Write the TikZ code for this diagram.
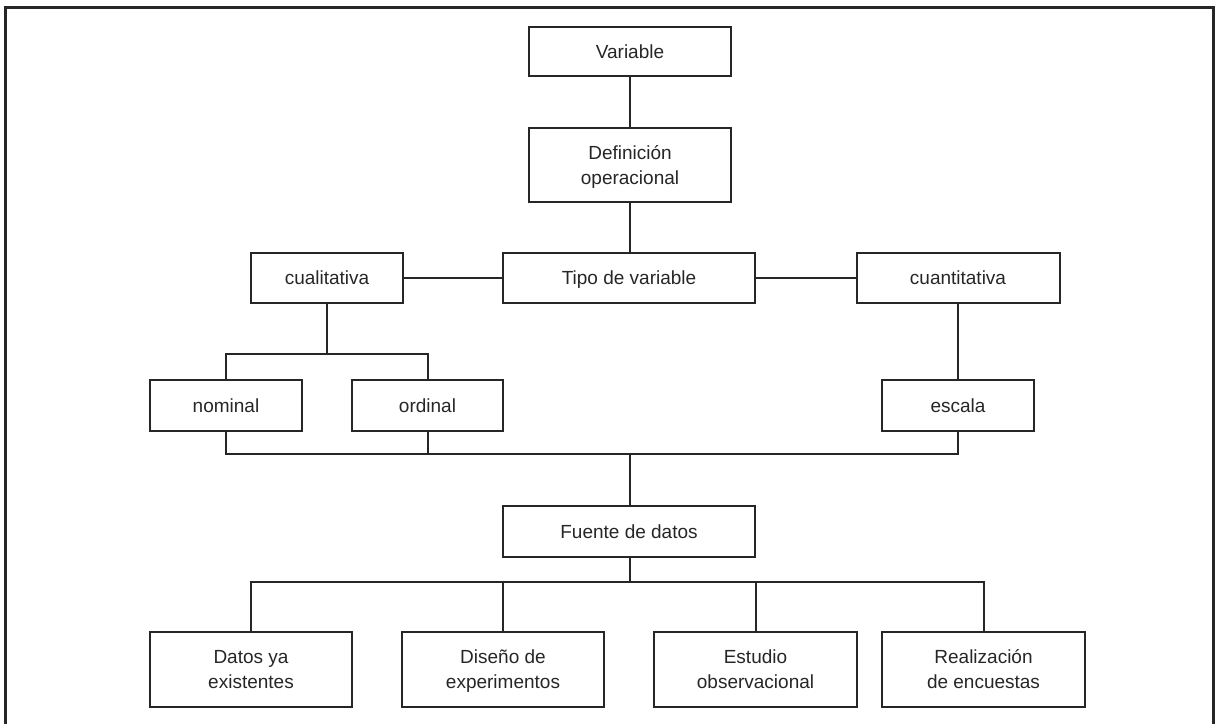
\documentclass[tikz,border=0pt]{standalone}
\usepackage{fontspec}
\setmainfont{Liberation Sans}
\definecolor{ink}{HTML}{262626}
% line strut that keeps every label line at the same height and depth
\newcommand\lnstrut{\rule[-6pt]{0pt}{25pt}}
\begin{document}
\begin{tikzpicture}[x=1pt,y=-1pt,
  box/.style={draw=ink, line width=2pt, text=ink, align=center, inner sep=0pt,
    font=\fontsize{19}{25}\selectfont},
  link/.style={draw=ink, line width=2pt, line join=miter}]
\useasboundingbox (0,0) rectangle (1217,724);
% outer frame (open at the bottom)
\draw[ink, line width=3pt, line join=miter] (5,724) -- (5,7) -- (1213,7) -- (1213,724);

% boxes
\node[box, minimum width=202pt, minimum height=49pt] (var)   at (630,51.5)  {\lnstrut Variable};
\node[box, minimum width=202pt, minimum height=74pt] (def)   at (630,165)   {\lnstrut Definición\\\lnstrut operacional};
\node[box, minimum width=252pt, minimum height=50pt] (tipo)  at (629,278)   {\lnstrut Tipo de variable};
\node[box, minimum width=152pt, minimum height=50pt] (cual)  at (327,278)   {\lnstrut cualitativa};
\node[box, minimum width=203pt, minimum height=50pt] (cuant) at (958,278)   {\lnstrut cuantitativa};
\node[box, minimum width=152pt, minimum height=51pt] (nom)   at (226,405.5) {\lnstrut nominal};
\node[box, minimum width=151pt, minimum height=51pt] (ord)   at (427.5,405.5) {\lnstrut ordinal};
\node[box, minimum width=152pt, minimum height=51pt] (esc)   at (958,405.5) {\lnstrut escala};
\node[box, minimum width=252pt, minimum height=51pt] (fue)   at (629,531.5) {\lnstrut Fuente de datos};
\node[box, minimum width=202pt, minimum height=75pt] (dat)   at (251,669.5) {\lnstrut Datos ya\\\lnstrut existentes};
\node[box, minimum width=202pt, minimum height=75pt] (dis)   at (503,669.5) {\lnstrut Diseño de\\\lnstrut experimentos};
\node[box, minimum width=203pt, minimum height=75pt] (est)   at (755.5,669.5) {\lnstrut Estudio\\\lnstrut observacional};
\node[box, minimum width=203pt, minimum height=75pt] (rea)   at (983.5,669.5) {\lnstrut Realización\\\lnstrut de encuestas};

% junction points
\coordinate (j1) at (327,354);
\coordinate (j2) at (630,454);
\coordinate (j3) at (630,582);

% connectors
\draw[link] (var.south) -- (def.north);
\draw[link] (def.south) -- (def.south |- tipo.north);
\draw[link] (cual.east) -- (tipo.west);
\draw[link] (tipo.east) -- (cuant.west);
\draw[link] (cual.south) -- (j1);
\draw[link] (nom.north) |- (j1) -| (ord.north);
\draw[link] (cuant.south) -- (esc.north);
\draw[link] (nom.south) |- (j2) -| (esc.south);
\draw[link] (ord.south) -- (ord.south |- j2);
\draw[link] (j2) -- (fue.north -| j2);
\draw[link] (fue.south -| j3) -- (j3);
\draw[link] (dat.north) |- (j3) -| (rea.north);
\draw[link] (dis.north) -- (dis.north |- j3);
\draw[link] (est.north) -- (est.north |- j3);
\end{tikzpicture}
\end{document}
